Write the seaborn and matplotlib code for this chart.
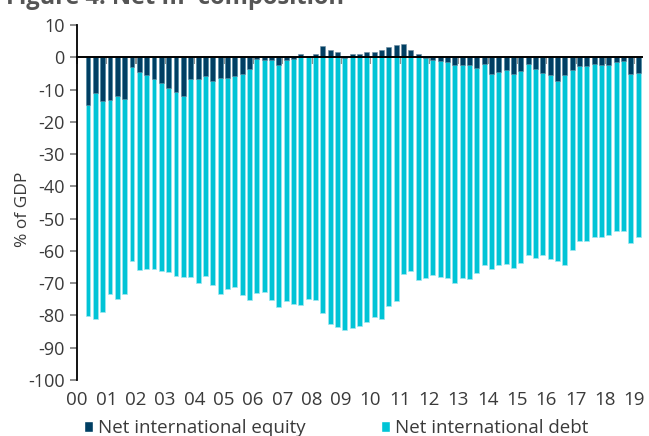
import numpy as np
import pandas as pd
import matplotlib
matplotlib.use("Agg")
import matplotlib.pyplot as plt
import seaborn as sns
from matplotlib.patches import Patch

# ---- data (quarterly, 2000Q2 .. 2019Q1), % of GDP ----
quarters = [f"{y}Q{q}" for y in range(2000, 2020) for q in (1, 2, 3, 4)][1:77]

equity = [-14.7, -11.1, -13.5, -13.1, -12.0, -13.0, -3.1, -4.7, -5.6, -6.6,
          -7.9, -9.6, -10.8, -11.9, -6.8, -6.7, -5.7, -7.3, -6.4, -6.3,
          -5.9, -5.1, -3.5, -0.5, -1.0, -1.0, -2.3, -1.0, -0.5, 0.9,
          0.5, 0.9, 3.6, 2.1, 1.5, -0.3, 1.0, 1.0, 1.7, 1.7,
          2.3, 3.1, 3.9, 4.2, 2.1, 1.0, -0.2, -1.0, -1.2, -1.6,
          -2.3, -2.5, -2.5, -3.2, -2.0, -5.3, -4.5, -4.0, -5.1, -4.2,
          -2.1, -3.7, -4.8, -5.6, -7.2, -5.6, -4.0, -2.7, -2.7, -2.2,
          -2.4, -2.5, -1.5, -1.2, -5.1, -4.8]

debt = [-65.5, -70.0, -65.3, -60.4, -62.9, -60.2, -59.9, -61.2, -60.1, -58.9,
        -58.4, -56.9, -57.1, -56.3, -61.3, -63.1, -62.0, -63.4, -66.8, -65.5,
        -65.4, -68.5, -71.8, -72.4, -71.6, -74.3, -75.2, -74.6, -75.8, -76.7,
        -74.8, -75.2, -79.2, -82.6, -83.7, -84.1, -83.8, -83.2, -81.9, -80.4,
        -81.0, -77.2, -75.6, -67.0, -66.2, -69.0, -68.2, -66.6, -67.0, -66.8,
        -67.5, -66.0, -66.2, -63.6, -62.3, -60.3, -59.9, -60.2, -60.2, -59.5,
        -59.2, -58.5, -56.5, -56.8, -56.0, -58.7, -55.7, -54.3, -54.1, -53.5,
        -53.3, -52.6, -52.3, -52.6, -52.6, -50.9]

year_labels = ["00", "01", "02", "03", "04", "05", "06", "07", "08", "09",
               "10", "11", "12", "13", "14", "15", "16", "17", "18", "19"]

series_names = ["Net international equity", "Net international debt"]

NAVY = "#003F63"
CYAN = "#00C4D6"
TXT = "#3a3a3a"

df = pd.DataFrame({"quarter": quarters, "equity": equity, "debt": debt})
# stacked extent of the debt bar (debt stacked below negative equity)
df["debt_extent"] = df["debt"] + np.minimum(df["equity"], 0)

sns.set_theme(style="ticks")
plt.rcParams['font.family'] = ['Open Sans', 'DejaVu Sans']
plt.rcParams['axes.unicode_minus'] = False

fig = plt.figure(figsize=(6.49, 4.36), dpi=100)
ax = fig.add_axes([77 / 649, 1 - 380 / 436, (641.7 - 77) / 649, (380 - 25) / 436])

sns.barplot(data=df, x="quarter", y="debt_extent", order=quarters, color=CYAN,
            width=0.68, edgecolor="#9fe8f0", linewidth=0.5, saturation=1, ax=ax)
sns.barplot(data=df, x="quarter", y="equity", order=quarters, color=NAVY,
            width=0.68, edgecolor="#6f8ea3", linewidth=0.4, saturation=1, ax=ax)

ax.set_xlim(-1.5, len(quarters) - 0.5)
ax.set_ylim(-100, 10)
ax.set_yticks(np.arange(-100, 11, 10))
ax.tick_params(axis="y", length=5, color="#808080", labelsize=13, labelcolor=TXT, pad=4)

tick_pos = [-1.5 + 4 * k for k in range(len(year_labels))]
ax.set_xticks(tick_pos)
ax.tick_params(axis="x", length=5, color="#808080", labelbottom=False)
ax.spines["bottom"].set_position(("data", 0))
ax.spines["bottom"].set_color("black")
ax.spines["bottom"].set_linewidth(1.4)
ax.spines["bottom"].set_zorder(5)
ax.spines["left"].set_color("black")
ax.spines["left"].set_linewidth(1.3)
ax.spines["top"].set_visible(False)
ax.spines["right"].set_visible(False)
ax.set_xlabel("")
ax.set_ylabel("% of GDP", fontsize=12.5, color=TXT)
ax.yaxis.set_label_coords(-0.082, 0.48)

sec = ax.secondary_xaxis("bottom")
sec.set_xticks(tick_pos, labels=year_labels)
sec.tick_params(length=0, pad=8, labelsize=13.5, labelcolor=TXT)
sec.spines["bottom"].set_visible(False)

handles = [Patch(facecolor=NAVY), Patch(facecolor=CYAN)]
fig.legend(handles, series_names, loc="center left",
           bbox_to_anchor=(84 / 649, 1 - 428 / 436), ncol=2, frameon=False,
           handlelength=0.5, handleheight=0.5, handletextpad=0.25,
           columnspacing=4.0, fontsize=13.5, borderpad=0, borderaxespad=0,
           labelcolor=TXT)

fig.text(6 / 649, 1 - 3.5 / 436, "Figure 4: Net IIP composition", fontsize=17,
         fontweight="bold", color="#555555", va="baseline", ha="left")

fig.savefig("out.png", dpi=100)
